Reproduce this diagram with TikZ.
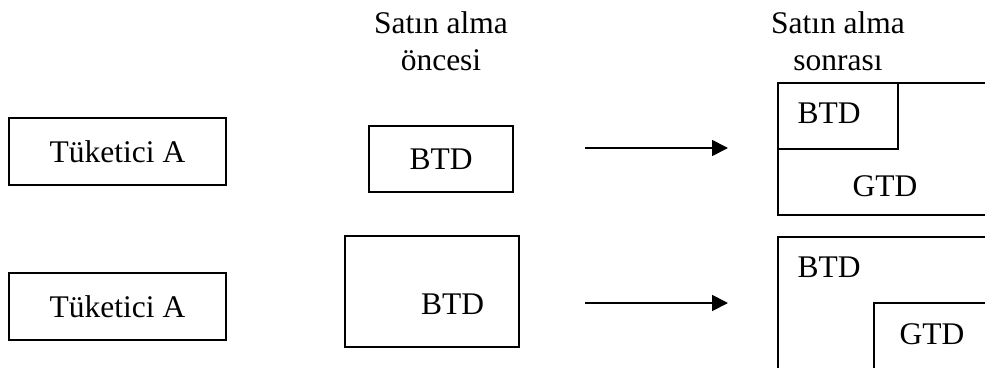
\documentclass[tikz,border=0pt]{standalone}
\usepackage{fontspec}
\setmainfont{Liberation Serif}
\usetikzlibrary{arrows.meta}
\begin{document}
\begin{tikzpicture}[x=1pt,y=-1pt,
  every node/.style={font=\fontsize{31.5}{37}\selectfont, inner sep=0pt},
  box/.style={draw, line width=1.8pt, minimum width=#1},
  lbl/.style={},
  conn/.style={line width=1.8pt, -{Triangle[length=16pt,width=16pt]}}]
\useasboundingbox (0,0) rectangle (985,367);
\clip (0,0) rectangle (985,367);

% column headings
\node[align=center] (hpre)  at (441,41) {Satın alma\\öncesi};
\node[align=center] (hpost) at (838,41) {Satın alma\\sonrası};

% consumers
\node[box=217pt, minimum height=67pt] (c1) at (117.5,151.5) {Tüketici A};
\node[box=217pt, minimum height=67pt] (c2) at (117.5,306.5) {Tüketici A};

% before purchase
\node[box=144pt, minimum height=66pt] (b1) at (441,159) {BTD};
\node[box=174pt, minimum height=111pt] (b2) at (432,291.5) {};
\node[lbl] (b2t) at (452.5,304) {BTD};

% after purchase, first row
\node[box=240pt, minimum height=132pt, anchor=north west] (p1) at (777,82) {};
\node[box=120pt, minimum height=66pt, anchor=north west] (p1b) at (777,82) {};
\node[lbl] (p1bt) at (829,113) {BTD};
\node[lbl] (p1gt) at (885,186) {GTD};

% after purchase, second row
\node[box=240pt, minimum height=160pt, anchor=north west] (p2) at (777,236) {};
\node[lbl] (p2bt) at (829,267) {BTD};
\node[box=140pt, minimum height=90pt, anchor=north west] (p2g) at (873,302) {};
\node[lbl] (p2gt) at (932,334) {GTD};

% arrows
\coordinate (a1s) at (585,148);
\coordinate (a1e) at (728,148);
\coordinate (a2s) at (585,303);
\coordinate (a2e) at (728,303);
\draw[conn] (a1s) -- (a1e);
\draw[conn] (a2s) -- (a2e);
\end{tikzpicture}
\end{document}
